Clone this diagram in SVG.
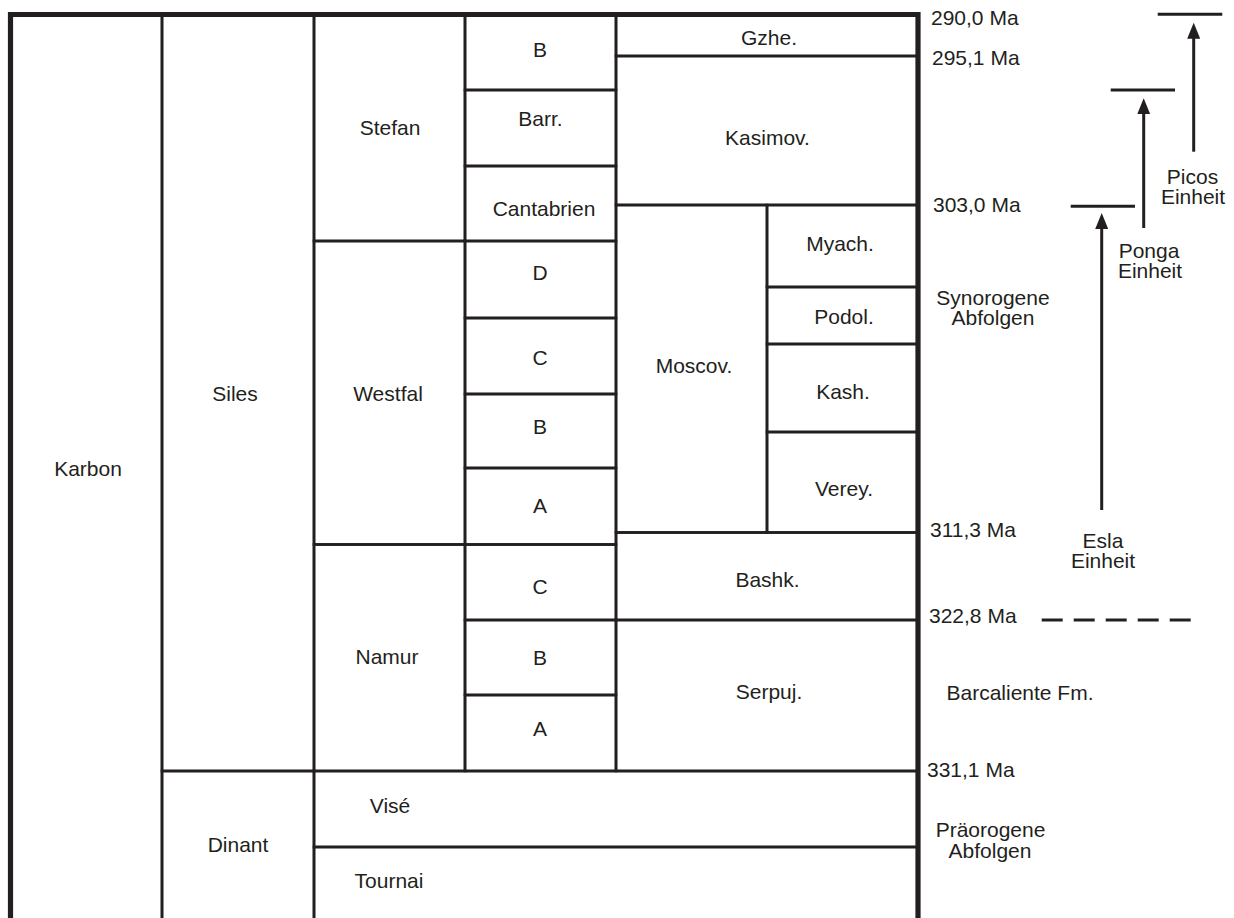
<svg xmlns="http://www.w3.org/2000/svg" width="1234" height="918" viewBox="0 0 1234 918">
<style>
rect.c{fill:none;stroke:#231f20;stroke-width:2.6}
text{font-family:"Liberation Sans",Arial,Helvetica,sans-serif;font-size:21px;fill:#231f20}
text.m{text-anchor:middle}
.ln{stroke:#231f20;stroke-width:3;fill:none}
</style>
<defs>
<marker id="ah" markerUnits="userSpaceOnUse" markerWidth="16" markerHeight="13" refX="6" refY="6.5" orient="auto">
<path d="M0,0 L16,6.5 L0,13 Z" fill="#231f20"/>
</marker>
</defs>
<rect width="1234" height="918" fill="#ffffff"/>
<g id="karbon"><rect class="c" x="10.5" y="14.5" width="151.5" height="910"/><text class="m" x="88" y="476">Karbon</text></g>
<g id="siles"><rect class="c" x="162" y="14.5" width="152" height="756.5"/><text class="m" x="235" y="401">Siles</text></g>
<g id="dinant"><rect class="c" x="162" y="771" width="152" height="155"/><text class="m" x="238" y="852">Dinant</text></g>
<g id="stefan"><rect class="c" x="314" y="14.5" width="151" height="226.5"/><text class="m" x="390" y="135">Stefan</text></g>
<g id="westfal"><rect class="c" x="314" y="241" width="151" height="303.5"/><text class="m" x="388" y="401">Westfal</text></g>
<g id="namur"><rect class="c" x="314" y="544.5" width="151" height="226.5"/><text class="m" x="387" y="664">Namur</text></g>
<g id="stefan-b"><rect class="c" x="465" y="14.5" width="151" height="75.5"/><text class="m" x="540" y="57">B</text></g>
<g id="barr"><rect class="c" x="465" y="90" width="151" height="76"/><text class="m" x="540.5" y="126">Barr.</text></g>
<g id="cantabrien"><rect class="c" x="465" y="166" width="151" height="75"/><text class="m" x="544" y="216">Cantabrien</text></g>
<g id="westfal-d"><rect class="c" x="465" y="241" width="151" height="77"/><text class="m" x="540" y="280">D</text></g>
<g id="westfal-c"><rect class="c" x="465" y="318" width="151" height="76"/><text class="m" x="540" y="365">C</text></g>
<g id="westfal-b"><rect class="c" x="465" y="394" width="151" height="74"/><text class="m" x="540" y="434">B</text></g>
<g id="westfal-a"><rect class="c" x="465" y="468" width="151" height="76.5"/><text class="m" x="540" y="513">A</text></g>
<g id="namur-c"><rect class="c" x="465" y="544.5" width="151" height="75.5"/><text class="m" x="540" y="594">C</text></g>
<g id="namur-b"><rect class="c" x="465" y="620" width="151" height="75"/><text class="m" x="540" y="665">B</text></g>
<g id="namur-a"><rect class="c" x="465" y="695" width="151" height="76"/><text class="m" x="540" y="736">A</text></g>
<g id="gzhe"><rect class="c" x="616" y="14.5" width="302" height="41.5"/><text class="m" x="769" y="45">Gzhe.</text></g>
<g id="kasimov"><rect class="c" x="616" y="56" width="302" height="149"/><text class="m" x="767.5" y="145">Kasimov.</text></g>
<g id="moscov"><rect class="c" x="616" y="205" width="151" height="327.5"/><text class="m" x="694" y="373">Moscov.</text></g>
<g id="myach"><rect class="c" x="767" y="205" width="151" height="82"/><text class="m" x="840" y="251">Myach.</text></g>
<g id="podol"><rect class="c" x="767" y="287" width="151" height="57"/><text class="m" x="844" y="324">Podol.</text></g>
<g id="kash"><rect class="c" x="767" y="344" width="151" height="88"/><text class="m" x="843" y="399">Kash.</text></g>
<g id="verey"><rect class="c" x="767" y="432" width="151" height="100.5"/><text class="m" x="844" y="496">Verey.</text></g>
<g id="bashk"><rect class="c" x="616" y="532.5" width="302" height="87.5"/><text class="m" x="767.5" y="587">Bashk.</text></g>
<g id="serpuj"><rect class="c" x="616" y="620" width="302" height="151"/><text class="m" x="769" y="699">Serpuj.</text></g>
<g id="vise"><rect class="c" x="314" y="771" width="604" height="76"/><text class="m" x="390" y="813">Visé</text></g>
<g id="tournai"><rect class="c" x="314" y="847" width="604" height="80"/><text class="m" x="389" y="888">Tournai</text></g>
<path id="frame" d="M10.5,920 V14.5 H918 V920" fill="none" stroke="#231f20" stroke-width="5.2"/>
<g id="ages">
<text x="931" y="25">290,0 Ma</text>
<text x="932" y="65">295,1 Ma</text>
<text x="933" y="212">303,0 Ma</text>
<text x="930" y="537">311,3 Ma</text>
<text x="929" y="623">322,8 Ma</text>
<text x="927" y="777">331,1 Ma</text>
</g>
<g id="synorogene"><text class="m" x="993" y="305">Synorogene</text><text class="m" x="993" y="325">Abfolgen</text></g>
<g id="barcaliente"><text class="m" x="1020" y="700">Barcaliente Fm.</text></g>
<g id="praeorogene"><text class="m" x="990.5" y="837">Präorogene</text><text class="m" x="990" y="858">Abfolgen</text></g>
<g id="picos"><text class="m" x="1192.5" y="184">Picos</text><text class="m" x="1193" y="204">Einheit</text></g>
<g id="ponga"><text class="m" x="1149" y="258">Ponga</text><text class="m" x="1150" y="278">Einheit</text></g>
<g id="esla"><text class="m" x="1103" y="548">Esla</text><text class="m" x="1103" y="568">Einheit</text></g>
<g id="connectors">
<line class="ln" x1="1157.7" y1="14.3" x2="1222.3" y2="14.3"/>
<line class="ln" x1="1193.7" y1="151.7" x2="1193.7" y2="32.7" marker-end="url(#ah)"/>
<line class="ln" x1="1110.7" y1="90" x2="1175" y2="90"/>
<line class="ln" x1="1143.7" y1="228" x2="1143.7" y2="108.3" marker-end="url(#ah)"/>
<line class="ln" x1="1070.7" y1="206.3" x2="1135" y2="206.3"/>
<line class="ln" x1="1101.7" y1="510" x2="1101.7" y2="223" marker-end="url(#ah)"/>
<line class="ln" x1="1041.7" y1="620" x2="1190.7" y2="620" stroke-dasharray="21 11"/>
</g>
</svg>
